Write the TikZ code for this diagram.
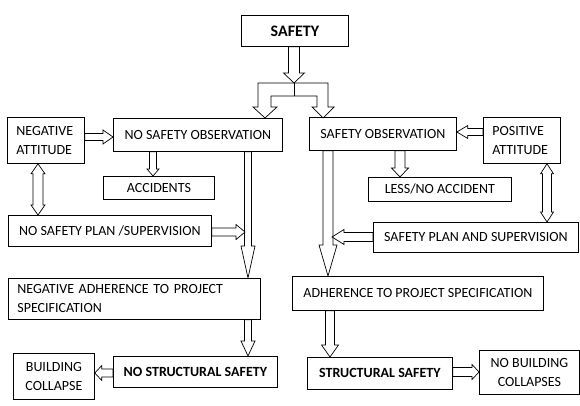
\documentclass[tikz,border=0pt]{standalone}
\usepackage{fontspec}
\setmainfont{Carlito}
\usepackage{tikz}
\usetikzlibrary{calc}

\tikzset{
  box/.style={draw, line width=0.8pt, inner sep=0pt, anchor=north west, font=\fontsize{14}{19}\selectfont},
  boldbox/.style={box, font=\fontsize{14}{19}\selectfont\bfseries},
  leftbox/.style={box, align=left, inner xsep=9pt},
  midbox/.style={box, align=center},
  shaftw/.store in=\shaftw, headw/.store in=\headw, headl/.store in=\headl,
  shaftw=3.5pt, headw=7pt, headl=9pt,
  blockarrow/.style={draw, line width=0.7pt, to path={
    ($(\tikztostart)!\shaftw!90:(\tikztotarget)$)
    -- ($($(\tikztotarget)!\headl!(\tikztostart)$)!\shaftw!90:(\tikztotarget)$)
    -- ($($(\tikztotarget)!\headl!(\tikztostart)$)!\headw!90:(\tikztotarget)$)
    -- (\tikztotarget)
    -- ($($(\tikztotarget)!\headl!(\tikztostart)$)!\headw!-90:(\tikztotarget)$)
    -- ($($(\tikztotarget)!\headl!(\tikztostart)$)!\shaftw!-90:(\tikztotarget)$)
    -- ($(\tikztostart)!\shaftw!-90:(\tikztotarget)$)
    -- cycle}},
  blockboth/.style={draw, line width=0.7pt, to path={
    -- ($($(\tikztostart)!\headl!(\tikztotarget)$)!\headw!90:(\tikztotarget)$)
    -- ($($(\tikztostart)!\headl!(\tikztotarget)$)!\shaftw!90:(\tikztotarget)$)
    -- ($($(\tikztotarget)!\headl!(\tikztostart)$)!\shaftw!90:(\tikztotarget)$)
    -- ($($(\tikztotarget)!\headl!(\tikztostart)$)!\headw!90:(\tikztotarget)$)
    -- (\tikztotarget)
    -- ($($(\tikztotarget)!\headl!(\tikztostart)$)!\headw!-90:(\tikztotarget)$)
    -- ($($(\tikztotarget)!\headl!(\tikztostart)$)!\shaftw!-90:(\tikztotarget)$)
    -- ($($(\tikztostart)!\headl!(\tikztotarget)$)!\shaftw!-90:(\tikztotarget)$)
    -- ($($(\tikztostart)!\headl!(\tikztotarget)$)!\headw!-90:(\tikztotarget)$)
    -- cycle}}
}

\begin{document}
\begin{tikzpicture}[x=1pt, y=-1pt]
	\useasboundingbox (0,0) rectangle (580,406);
	\node[boldbox, minimum width=107pt, minimum height=31pt, font=\fontsize{16}{19}\selectfont\bfseries] (safety) at (241,15) {SAFETY};
	\node[box, minimum width=169pt, minimum height=33pt] (nso) at (113,118) {NO SAFETY OBSERVATION};
	\node[leftbox, minimum width=77pt, minimum height=46pt, text width=59pt] (negatt) at (7,117) {NEGATIVE\\ATTITUDE};
	\node[box, minimum width=111pt, minimum height=23pt] (acc) at (103,176) {ACCIDENTS};
	\node[box, minimum width=203pt, minimum height=31pt] (nsp) at (8,215) {NO SAFETY PLAN /SUPERVISION};
	\node[leftbox, minimum width=252pt, minimum height=41pt, text width=234pt] (negadh) at (8,278) {NEGATIVE ADHERENCE TO PROJECT\\SPECIFICATION};
	\node[boldbox, minimum width=164pt, minimum height=31pt] (nss) at (113,356) {NO STRUCTURAL SAFETY};
	\node[midbox, minimum width=81pt, minimum height=46pt] (collapse) at (13,353) {BUILDING\\COLLAPSE};
	\node[box, minimum width=147pt, minimum height=33pt] (so) at (309,117) {SAFETY OBSERVATION};
	\node[leftbox, minimum width=77pt, minimum height=46pt, text width=59pt] (posatt) at (483,117) {POSITIVE\\ATTITUDE};
	\node[box, minimum width=143pt, minimum height=24pt] (less) at (368,177) {LESS/NO ACCIDENT};
	\node[box, minimum width=205pt, minimum height=30pt] (sp) at (373,222) {SAFETY PLAN AND SUPERVISION};
	\node[box, minimum width=251pt, minimum height=34pt] (adh) at (292,276) {ADHERENCE TO PROJECT SPECIFICATION};
	\node[boldbox, minimum width=145pt, minimum height=32pt] (ss) at (307,357) {STRUCTURAL SAFETY};
	\node[midbox, minimum width=100pt, minimum height=44pt] (nocollapse) at (479,350) {NO BUILDING\\COLLAPSES};
	\coordinate (fork) at (294,83);
	\coordinate (join1) at (245,232);
	\coordinate (join2) at (332,237);
	\draw[blockarrow, shaftw=5.5pt, headw=10.5pt, headl=10pt] (safety.south -| fork) to (fork);
	\draw[line width=0.7pt] (271,96) -- (317,96) -- (317,107) -- (312,107) -- (323,118) -- (334,107) -- (328,107) -- (328,83) -- (258,83) -- (258,107) -- (253,107) -- (265,118) -- (277,107) -- (271,107) -- cycle;
	\draw[line width=0.7pt] (fork) -- (294,96);
	\draw[blockarrow, headl=10pt] (negatt.east |- 0,137) to (nso.west |- 0,137);
	\draw[blockarrow, headw=6pt, headl=7pt] (nso.south -| 153,0) to (acc.north -| 153,0);
	\draw[blockarrow, headl=32pt] (nso.south -| 248,0) to (negadh.north -| 248,0);
	\draw[blockarrow, shaftw=4pt, headw=7.5pt] (nsp.east |- join1) to (join1);
	\draw[blockboth, shaftw=5pt, headw=7pt, headl=10pt] (negatt.south -| 38,0) to (nsp.north -| 38,0);
	\draw[blockarrow, headl=15pt] (negadh.south -| 248,0) to (nss.north -| 248,0);
	\draw[blockarrow, shaftw=4pt, headw=7.5pt, headl=7pt] (nss.west |- 0,373) to (collapse.east |- 0,373);
	\draw[blockarrow, headw=6.5pt, headl=11pt] (posatt.west |- 0,132) to (so.east |- 0,132);
	\draw[blockarrow, shaftw=5pt, headw=8.5pt] (so.south -| 400,0) to (less.north -| 400,0);
	\draw[blockboth, shaftw=4.5pt, headw=6.5pt, headl=10pt] (posatt.south -| 547,0) to (sp.north -| 547,0);
	\draw[blockarrow, shaftw=5pt, headw=9pt, headl=31pt] (so.south -| 328,0) to (adh.north -| 328,0);
	\draw[blockarrow, shaftw=4.5pt, headw=7.5pt, headl=12pt] (sp.west |- join2) to (join2);
	\draw[blockarrow, shaftw=4.5pt, headw=8.5pt, headl=12pt] (adh.south -| 330,0) to (ss.north -| 330,0);
	\draw[blockarrow, shaftw=4.5pt, headw=7.5pt, headl=7pt] (ss.east |- 0,372) to (nocollapse.west |- 0,372);
\end{tikzpicture}
\end{document}
